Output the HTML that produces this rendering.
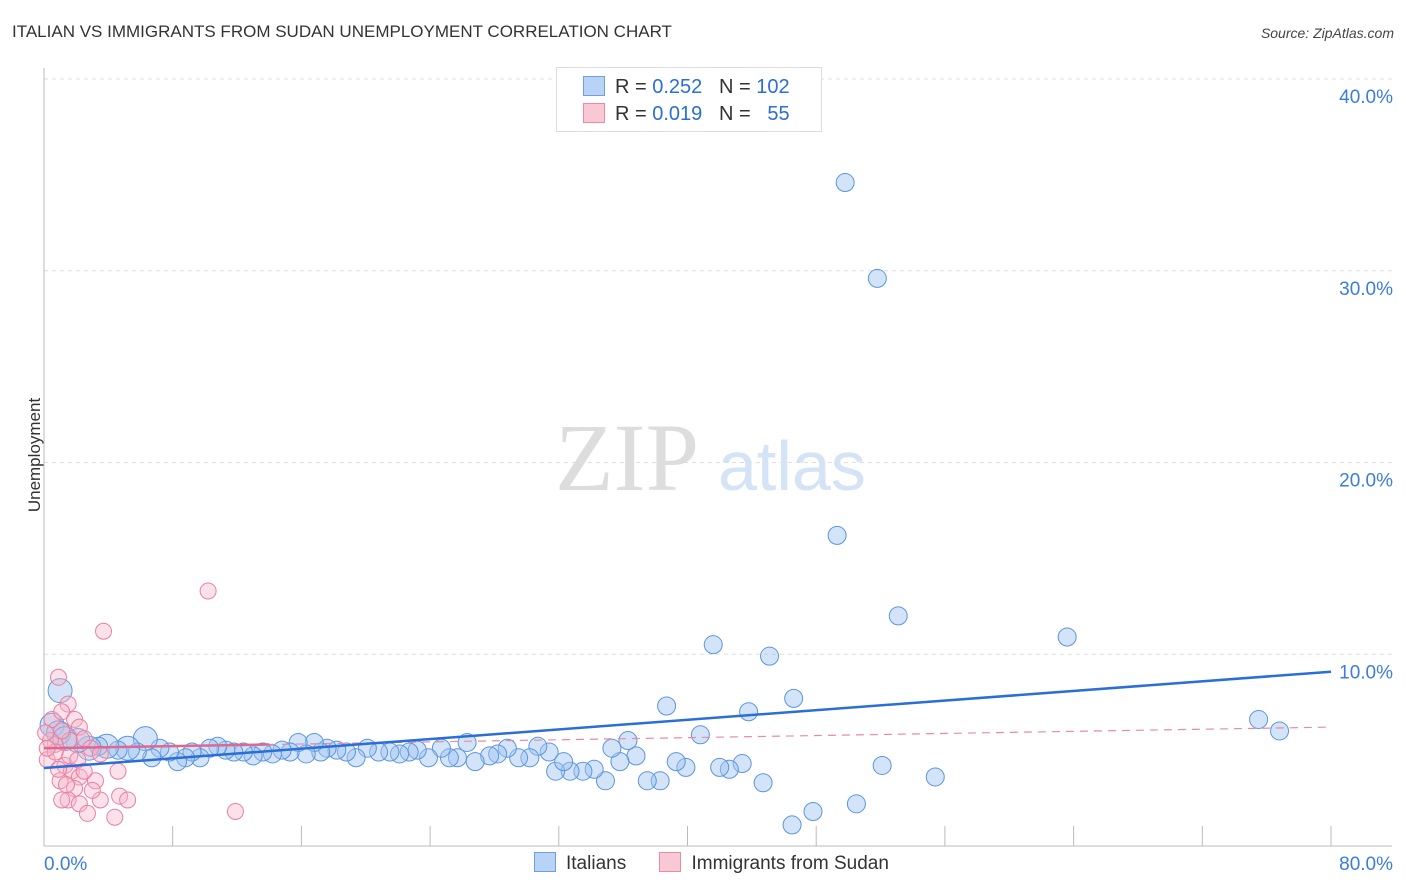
<!DOCTYPE html>
<html><head><meta charset="utf-8">
<style>
body{margin:0;background:#fff;font-family:"Liberation Sans",sans-serif;}
#wrap{position:relative;width:1406px;height:892px;overflow:hidden;}
.t{position:absolute;white-space:nowrap;}
</style></head>
<body>
<div id="wrap">
<div class="t" style="left:12px;top:22px;font-size:17px;color:#333;">ITALIAN VS IMMIGRANTS FROM SUDAN UNEMPLOYMENT CORRELATION CHART</div>
<div class="t" style="right:12px;top:25px;font-size:14px;color:#444;font-style:italic;">Source: ZipAtlas.com</div>
<div class="t" style="left:-22px;top:445px;font-size:17px;color:#333;transform:rotate(-90deg);">Unemployment</div>
<svg id="plot" width="1406" height="892" style="position:absolute;left:0;top:0"></svg>
<div style="position:absolute;left:556px;top:67px;width:264px;height:63px;border:1px solid #ddd;background:#fff;font-size:20px;color:#333;">
 <div style="position:absolute;left:26px;top:8px;"><span style="display:inline-block;width:20px;height:18px;background:#b8d3f5;border:1px solid #6e9fe0;vertical-align:-3px;margin-right:10px;"></span>R = <span style="color:#2a6ed8">0.252</span> &nbsp;&nbsp;N = <span style="color:#2a6ed8">102</span></div>
 <div style="position:absolute;left:26px;top:35px;"><span style="display:inline-block;width:20px;height:18px;background:#f8c8d4;border:1px solid #ec8ba6;vertical-align:-3px;margin-right:10px;"></span>R = <span style="color:#2a6ed8">0.019</span> &nbsp;&nbsp;N = &nbsp;&nbsp;<span style="color:#2a6ed8">55</span></div>
</div>
<div style="position:absolute;left:534px;top:852px;font-size:19px;color:#333;">
 <span><span style="display:inline-block;width:20px;height:18px;background:#b8d3f5;border:1px solid #6e9fe0;vertical-align:-3px;margin-right:10px;"></span>Italians</span>
 <span style="margin-left:28px;"><span style="display:inline-block;width:20px;height:18px;background:#f8c8d4;border:1px solid #ec8ba6;vertical-align:-3px;margin-right:10px;"></span>Immigrants from Sudan</span>
</div>
</div>
<script>
const xTicks=[0,8,16,24,32,40,48,56,64,72,80];
const yTicks=[10,20,30,40];
const yTickLabels=["10.0%","20.0%","30.0%","40.0%"];
const xEndLabels=["0.0%","80.0%"];
const blueX=[49.8,51.8,49.3,53.1,63.6,41.6,45.1,46.6,38.7,43.8,40.8,75.5,76.8,52.1,55.4,50.5,47.8,46.5,44.7,43.4,42.6,42.0,39.9,39.3,38.3,37.5,36.8,36.3,35.8,35.3,34.9,34.2,33.5,32.7,31.8,32.3,31.4,30.7,30.2,29.5,28.8,28.2,27.7,26.8,26.3,25.7,25.2,24.7,23.9,23.2,22.7,22.1,21.5,20.8,20.1,19.4,18.8,18.2,17.6,17.2,16.8,16.3,15.8,15.3,14.8,14.2,13.6,13.0,12.4,11.8,11.3,10.8,10.3,9.7,9.2,8.8,8.3,7.8,7.2,6.7,6.3,5.8,5.2,4.6,3.9,3.4,2.8,2.1,1.0,0.5,0.9,1.3];
const blueY=[34.6,29.6,16.2,12.0,10.9,10.5,9.9,7.7,7.3,7.0,5.8,6.6,6.0,4.2,3.6,2.2,1.8,1.1,3.3,4.3,4.0,4.1,4.1,4.4,3.4,3.4,4.7,5.5,4.4,5.1,3.4,4.0,3.9,3.9,3.9,4.4,4.9,5.2,4.6,4.6,5.1,4.8,4.7,4.4,5.4,4.6,4.6,5.1,4.6,5.0,4.9,4.8,4.9,4.9,5.1,4.6,4.9,5.0,5.1,4.9,5.4,4.8,5.4,4.9,5.0,4.8,4.9,4.7,4.9,4.9,5.0,5.2,5.1,4.6,4.9,4.6,4.4,4.9,5.1,4.6,5.6,4.9,5.1,5.0,5.2,5.2,5.1,5.5,8.1,6.3,5.9,5.6];
const blueR=[9,9,9,9,9,9,9,9,9,9,9,9,9,9,9,9,9,9,9,9,9,9,9,9,9,9,9,9,9,9,9,9,9,9,9,9,9,9,9,9,9,9,9,9,9,9,9,9,9,9,9,9,9,9,9,9,9,9,9,9,9,9,9,9,9,9,9,9,9,9,9,9,9,9,9,9,9,9,9,9,12,9,12,9,12,9,12,12,12,12,12,12];
const pinkX=[10.2,3.7,0.9,1.5,0.5,1.1,1.9,2.2,1.6,0.7,0.2,1.1,2.5,2.9,3.5,1.3,1.7,2.2,1.0,1.9,3.2,4.6,1.5,1.1,2.2,3.5,4.7,5.2,2.7,4.4,11.9,0.4,0.7,1.6,0.1,0.2,2.1,0.9,1.4,2.5,3.0];
const pinkY=[13.3,11.2,8.8,7.4,6.6,7.0,6.6,6.2,5.5,5.3,4.5,6.0,5.6,5.1,4.8,4.2,3.9,3.6,3.4,3.0,3.4,3.9,2.4,2.4,2.2,2.4,2.6,2.4,1.7,1.5,1.8,5.5,4.9,4.7,5.9,5.1,4.5,4.0,3.2,3.9,2.9];
const blueLine=[4.07,9.09];
const pinkLine=[5.1,6.2];
const NS="http://www.w3.org/2000/svg";
const svg=document.getElementById('plot');
const X=v=>44+v*(1331-44)/80, Y=v=>846-v*(846-79)/40;
function mk(t,a){const e=document.createElementNS(NS,t);for(const k in a)e.setAttribute(k,a[k]);svg.appendChild(e);return e;}
yTicks.forEach((t,i)=>{
 const g=mk('line',{x1:44,x2:1392,y1:Y(t),y2:Y(t),stroke:'#ddd','stroke-dasharray':'4,4'});
 
 
 const tx=mk('text',{x:1393,y:Y(t)+24,'text-anchor':'end','font-size':19,fill:'#3b7ddd','font-family':'Liberation Sans, sans-serif'});
 tx.textContent=yTickLabels[i];
 
 
});
const ax=mk('line',{x1:44,x2:44,y1:68,y2:846,stroke:'#bbb'});


const bx=mk('line',{x1:44,x2:1392,y1:846,y2:846,stroke:'#bbb'});


xTicks.forEach(t=>{const l=mk('line',{x1:X(t),x2:X(t),y1:826,y2:846,stroke:'#bbb'});
 
 });
[[0,'start',44],[1,'end',1393]].forEach(([i,a,x])=>{const tx=mk('text',{x:x,y:870,'text-anchor':a,'font-size':19,fill:'#3b7ddd','font-family':'Liberation Sans, sans-serif'});tx.textContent=xEndLabels[i];
 
 });
const w1=mk('text',{x:555,y:490,'font-size':96,fill:'#ddd','font-family':'Liberation Serif, serif'});w1.textContent='ZIP';


const w2=mk('text',{x:718,y:490,'font-size':70,fill:'#d4e3f5','font-family':'Liberation Sans, sans-serif'});w2.textContent='atlas';


blueX.forEach((v,i)=>{const c=mk('circle',{cx:X(v),cy:Y(blueY[i]),r:blueR[i]||9,fill:'rgba(160,196,240,0.45)',stroke:'#5b95e0','stroke-width':1});
 
 });
pinkX.forEach((v,i)=>{const c=mk('circle',{cx:X(v),cy:Y(pinkY[i]),r:8,fill:'rgba(246,180,200,0.4)',stroke:'#ec7fa0','stroke-width':1});
 
 });
const pl=mk('line',{x1:X(0),x2:X(80),y1:Y(pinkLine[0]),y2:Y(pinkLine[1]),stroke:'#e88aa5','stroke-width':1.2,'stroke-dasharray':'8,6'});


const ps=mk('line',{x1:X(0),x2:X(14),y1:Y(pinkLine[0]),y2:Y(pinkLine[0]+(pinkLine[1]-pinkLine[0])*14/80),stroke:'#e06890','stroke-width':2.5});


const bl=mk('line',{x1:X(0),x2:X(80),y1:Y(blueLine[0]),y2:Y(blueLine[1]),stroke:'#2a6ed8','stroke-width':2.5});


</script>
</body></html>
